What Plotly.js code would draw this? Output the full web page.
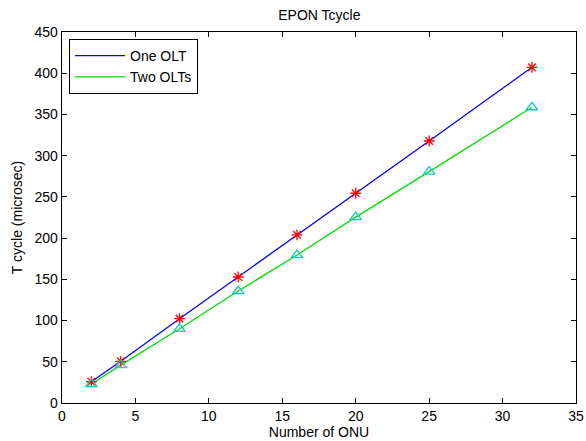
<!DOCTYPE html>
<html>
<head>
<meta charset="utf-8">
<script src="https://cdn.plot.ly/plotly-3.0.1.min.js"></script>
<style>html,body{margin:0;padding:0;background:#fff;}#chart{width:586px;height:441px;}</style>
</head>
<body>
<div id="chart"></div>
<script>
const onuCounts = [2, 4, 8, 12, 16, 20, 25, 32];
const oneOlt = [25.8, 50.6, 102.3, 152.8, 204, 254.4, 317.8, 407.2];
const twoOlts = [23, 46, 90, 135.8, 179.5, 225.5, 280.6, 358.7];
const seriesNames = ['One OLT', 'Two OLTs'];
const xTicks = [0, 5, 10, 15, 20, 25, 30, 35];
const yTicks = [0, 50, 100, 150, 200, 250, 300, 350, 400, 450];

const fontFam = 'Liberation Sans, Arial, Helvetica, sans-serif';
const traces = [
  {x: onuCounts, y: oneOlt, mode: 'lines', name: seriesNames[0],
   line: {color: '#0000ff', width: 1.3}},
  {x: onuCounts, y: twoOlts, mode: 'lines', name: seriesNames[1],
   line: {color: '#00dd00', width: 1.3}},
  {x: onuCounts, y: oneOlt, mode: 'markers', showlegend: false,
   marker: {symbol: 'asterisk-open', size: 9, color: '#ff0000', line: {color: '#ff0000', width: 1.3}}},
  {x: onuCounts, y: twoOlts, mode: 'markers', showlegend: false,
   marker: {symbol: 'triangle-up-open', size: 10, color: '#10c8c8', line: {color: '#10c8c8', width: 1.3}}}
];

const axisCommon = {
  showline: true, linecolor: '#000', linewidth: 1.3, mirror: 'ticks',
  ticks: 'inside', ticklen: 5, tickcolor: '#000', tickwidth: 1,
  showgrid: false, zeroline: false,
  tickfont: {family: fontFam, size: 14, color: '#000'}
};

const layout = {
  width: 586, height: 441,
  margin: {l: 62, r: 10, t: 32, b: 38, pad: 0},
  paper_bgcolor: '#fff', plot_bgcolor: '#fff',
  font: {family: fontFam, size: 14, color: '#000'},
  title: {text: 'EPON Tcycle', x: 0.545, xanchor: 'center', y: 0.965, yanchor: 'middle',
          font: {family: fontFam, size: 14, color: '#000'}},
  xaxis: Object.assign({}, axisCommon, {
    range: [0, 35], tickvals: xTicks, ticktext: xTicks.map(String),
    title: {text: 'Number of ONU', standoff: 4, font: {family: fontFam, size: 14, color: '#000'}}
  }),
  yaxis: Object.assign({}, axisCommon, {
    range: [0, 450], tickvals: yTicks, ticktext: yTicks.map(String),
    title: {text: 'T cycle (microsec)', standoff: 8, font: {family: fontFam, size: 14, color: '#000'}}
  }),
  showlegend: true,
  legend: {x: 0.0136, y: 0.981, xanchor: 'left', yanchor: 'top',
           bgcolor: '#fff', bordercolor: '#000', borderwidth: 1,
           font: {family: fontFam, size: 14, color: '#000'}, itemwidth: 50, tracegroupgap: 0}
};

Plotly.newPlot('chart', traces, layout, {displayModeBar: false, staticPlot: true});
</script>
</body>
</html>
